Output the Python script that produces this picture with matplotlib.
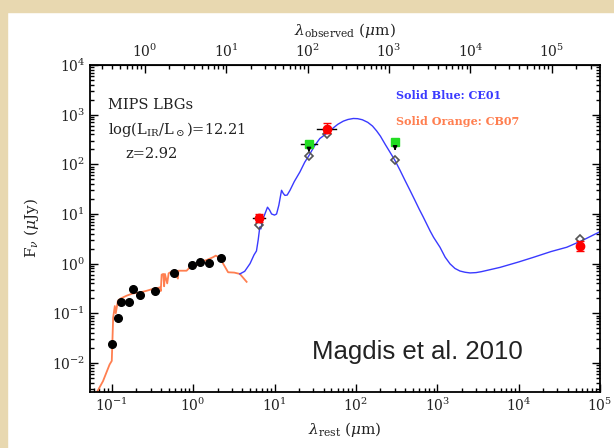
import numpy as np
import matplotlib
matplotlib.use('Agg')
import matplotlib.pyplot as plt
from matplotlib.patches import Rectangle
from matplotlib.ticker import NullFormatter

# redshift of the stack
z = 2.92

# CB07 stellar template (rest um, uJy)
cb07_wave = [0.055, 0.065, 0.078, 0.094, 0.100, 0.104, 0.109, 0.112, 0.119, 0.13,
             0.152, 0.18, 0.221, 0.26, 0.322, 0.36, 0.389, 0.40, 0.41, 0.43,
             0.44, 0.45, 0.48, 0.5, 0.57, 0.65, 0.66, 0.83, 0.95, 1.0,
             1.21, 1.5, 1.76, 1.9, 2.13, 2.69, 3.2, 3.75, 4.54]
cb07_flux = [0.0018, 0.0025, 0.0043, 0.0093, 0.011, 0.082, 0.14, 0.10, 0.18, 0.20,
             0.226, 0.25, 0.263, 0.28, 0.31, 0.32, 0.333, 0.28, 0.60, 0.62,
             0.35, 0.62, 0.40, 0.64, 0.72, 0.50, 0.72, 0.72, 0.90, 0.80,
             1.07, 1.20, 1.35, 1.45, 1.30, 0.67, 0.66, 0.62, 0.43]

# CE01 dust template
ce01_wave = [3.75, 4.3, 5.0, 5.6, 6.0, 6.3, 6.6, 6.8, 7.1, 7.7, 8.2, 8.7, 9.2, 10.0,
             10.6, 11.3, 12.2, 12.8, 13.4, 14.3, 15.5, 17.5, 20.5, 23.5, 26.5, 31,
             36, 43.8, 52.7, 60, 70, 80, 93, 105, 120, 140, 160, 180, 200, 230,
             260, 302, 350, 400, 462, 530, 600, 670, 741, 820, 900, 1000, 1080,
             1250, 1435, 1650, 1900, 2200, 2530, 3000, 3500, 5900, 10000, 15200,
             25000, 39100, 60000, 100000]
ce01_flux = [0.62, 0.70, 1.0, 1.5, 1.8, 3.0, 5.5, 5.0, 7.4, 10.5, 13.7, 12, 10, 9.5,
             10, 15, 30, 26, 23.7, 24, 30, 45, 70, 110, 150, 235,
             330, 420, 540, 640, 740, 800, 837, 830, 790, 700, 590, 470, 370, 250,
             180, 120, 75, 48, 30, 19, 12.5, 8.8, 6.3, 4.5, 3.4, 2.6, 2.14,
             1.35, 0.99, 0.80, 0.71, 0.67, 0.65, 0.66, 0.69, 0.84, 1.08, 1.34,
             1.75, 2.14, 2.9, 4.4]

# optical / near-IR photometry
opt_wave = [0.1, 0.119, 0.129, 0.163, 0.183, 0.225, 0.344, 0.584, 0.98, 1.21, 1.57, 2.17]
opt_flux = [0.024, 0.082, 0.166, 0.166, 0.31, 0.237, 0.275, 0.65, 0.94, 1.06, 1.01, 1.3]

# detections (red) and upper limits (green)
det_wave = [6.5, 43.8, 57000]
det_flux = [8.4, 525, 2.3]
det_err_lo = [1.5, 100, 0.5]
det_err_hi = [1.5, 150, 0.5]
det_band = [1.19, 1.3, 1.0]
lim_wave = [26.5, 303]
lim_flux = [262, 282]
lim_band = [1.25, 1.0]

# model predicted fluxes
mod_wave = [6.5, 26.5, 43.8, 303, 57000]
mod_flux = [6.1, 145, 404, 120, 3.15]

plt.rcParams['font.family'] = ['DejaVu Serif']
plt.rcParams['mathtext.fontset'] = 'dejavuserif'
txt = '#222222'

fig = plt.figure(figsize=(6.14, 4.48), dpi=100)
fig.patches.append(Rectangle((0, 0), 7 / 614, 1, transform=fig.transFigure,
                             color='#E8D8B0', zorder=0))
fig.patches.append(Rectangle((0, 1 - 12 / 448), 1, 12 / 448, transform=fig.transFigure,
                             color='#E8D8B0', zorder=0))
ax = fig.add_axes([90 / 614, 56 / 448, 510 / 614, 327 / 448])

ax.plot(cb07_wave, cb07_flux, color='#FF7F50', lw=1.3, zorder=2)
ax.plot(ce01_wave, ce01_flux, color='#3a3aFF', lw=1.0, zorder=2)
ax.plot(opt_wave, opt_flux, 'o', color='black', ms=5.5, zorder=3)

# filter widths
for w, f, b in zip(det_wave + lim_wave, det_flux + lim_flux, det_band + lim_band):
    if b > 1:
        ax.plot([w / b, w * b], [f, f], color='black', lw=1.0, zorder=3)

ax.plot(mod_wave, mod_flux, 'D', mfc='none', mec='#555555', mew=1.2, ms=4.5, zorder=4)
ax.errorbar(det_wave, det_flux, yerr=[det_err_lo, det_err_hi], fmt='o', color='red',
            ms=6, capsize=3, elinewidth=1, zorder=5)
ax.plot(lim_wave, lim_flux, 's', color='#22DD22', ms=6, zorder=5)
for w, f in zip(lim_wave, lim_flux):
    ax.annotate('', xy=(w, f / 1.7), xytext=(w, f / 1.15),
                arrowprops=dict(arrowstyle='-|>', color='black', lw=1, mutation_scale=6),
                zorder=5)

ax.set_xscale('log')
ax.set_yscale('log')
ax.set_xlim(0.054, 1e5)
ax.set_ylim(2.6e-3, 1e4)
ax.xaxis.set_minor_formatter(NullFormatter())
ax.yaxis.set_minor_formatter(NullFormatter())

ax.tick_params(which='both', direction='in', right=True, top=False, labelsize=10,
               labelcolor=txt, width=1)
ax.tick_params(which='major', length=6)
ax.tick_params(which='minor', length=3)
for s in ax.spines.values():
    s.set_linewidth(1.3)

top = ax.secondary_xaxis('top', functions=(lambda x: x * (1 + z), lambda x: x / (1 + z)))
top.xaxis.set_minor_formatter(NullFormatter())
top.tick_params(which='both', direction='in', labelsize=10, labelcolor=txt, width=1)
top.tick_params(which='major', length=6)
top.tick_params(which='minor', length=3)
top.set_xlabel(r'$\lambda_{\rm observed}$ ($\mu$m)', fontsize=11, color=txt, labelpad=6)

ax.set_xlabel(r'$\lambda_{\rm rest}$ ($\mu$m)', fontsize=11, color=txt, labelpad=4)
ax.set_ylabel(r'F$_\nu$ ($\mu$Jy)', fontsize=11, color=txt, labelpad=8)

ax.text(0.036, 0.865, 'MIPS LBGs', transform=ax.transAxes, fontsize=10.5, color=txt)
ax.text(0.036, 0.79, r'log(L$_{\rm IR}$/L$_\odot$)=12.21', transform=ax.transAxes,
        fontsize=10.5, color=txt)
ax.text(0.07, 0.715, 'z=2.92', transform=ax.transAxes, fontsize=10.5, color=txt)
ax.text(0.6, 0.895, 'Solid Blue: CE01', transform=ax.transAxes, fontsize=8,
        color='#3a3aFF', fontweight='bold')
ax.text(0.6, 0.815, 'Solid Orange: CB07', transform=ax.transAxes, fontsize=8,
        color='#FF7F50', fontweight='bold')
ax.text(0.435, 0.1, 'Magdis et al. 2010', transform=ax.transAxes, fontsize=18.5,
        color='#222222', family='Liberation Sans')

fig.savefig('out.png', dpi=100)
